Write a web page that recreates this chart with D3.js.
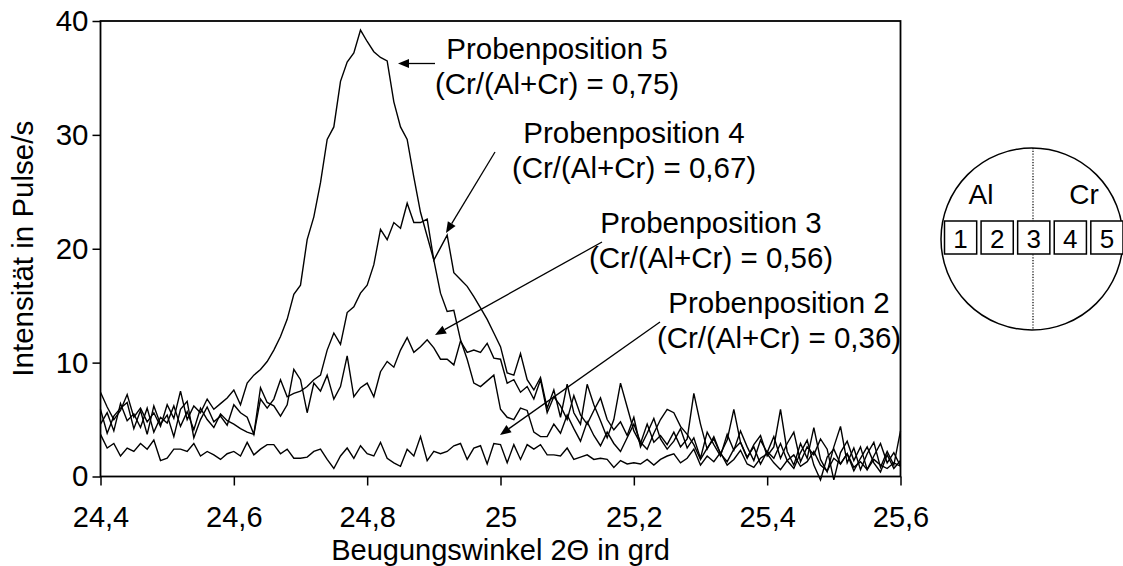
<!DOCTYPE html>
<html>
<head>
<meta charset="utf-8">
<script src="https://cdn.jsdelivr.net/npm/d3@7"></script>
<style>
  html, body { margin: 0; padding: 0; background: #fff; }
  svg { display: block; font-family: "Liberation Sans", Arial, Helvetica, sans-serif; }
</style>
</head>
<body>
<svg id="chart" width="1123" height="566"></svg>
<script>
// Diffraction angle grid (2Θ, degrees), 0.01° steps from 24.40 to 25.60
const angleStart = 24.40;
const angleStep = 0.01;
const angleCount = 121;

// Measured intensity (pulses/s) for each sample position
const pos5 = [
  7.4, 6.1, 5.0, 5.8, 7.2, 5.2, 6.0, 4.8, 5.6, 4.4, 6.3, 5.1, 7.5, 5.0, 6.2, 5.6, 6.8, 5.9, 6.4, 6.9,
  7.6, 6.3, 8.2, 8.9, 9.4, 10.1, 11.1, 12.3, 13.8, 16.0, 16.8, 20.8, 22.8, 25.8, 29.6, 30.7, 34.7, 36.4, 37.2, 39.2,
  38.2, 37.3, 36.8, 36.5, 32.9, 30.7, 29.6, 26.3, 23.2, 21.1, 19.0, 16.1, 14.5, 14.6, 12.0, 10.3, 8.2, 7.9, 8.4, 8.9,
  5.9, 5.2, 5.0, 6.0, 5.8, 3.9, 3.5, 3.5, 4.6, 3.8, 5.4, 4.2, 3.1, 4.8, 3.6, 2.7, 3.9, 2.9, 2.2, 3.4,
  4.6, 3.0, 2.4, 3.8, 5.0, 5.9, 5.6, 4.4, 3.7, 2.8, 1.5, 2.5, 3.3, 2.0, 1.3, 2.4, 3.0, 1.7, 2.6, 1.1,
  2.2, 1.6, 2.9, 1.4, 0.7, 2.1, 3.2, 1.0, -0.3, 1.7, 2.4, 1.1, 2.0, 0.5, 1.6, 2.6, 1.2, 0.4, 1.9, 0.7, 1.4
];
const pos4 = [
  5.9, 3.8, 5.3, 6.0, 6.5, 4.2, 5.8, 3.7, 6.2, 4.6, 5.4, 3.5, 5.9, 6.6, 3.4, 5.0, 6.1, 4.8, 5.3, 4.5,
  6.3, 5.6, 5.2, 3.7, 6.8, 6.0, 6.8, 8.5, 7.0, 7.3, 7.5, 7.9, 8.5, 8.9, 11.1, 12.6, 11.6, 14.4, 14.9, 16.1,
  16.8, 18.6, 21.7, 20.8, 22.3, 21.8, 24.0, 22.3, 22.3, 22.6, 19.0, 20.1, 21.2, 17.9, 17.3, 16.7, 15.8, 14.8, 13.8, 12.6,
  11.4, 9.1, 8.9, 10.8, 8.5, 7.6, 8.7, 6.0, 7.6, 5.2, 8.1, 5.6, 4.6, 8.1, 6.3, 4.9, 3.4, 5.0, 8.2, 6.1,
  4.0, 2.9, 4.6, 3.0, 3.6, 2.8, 3.9, 2.6, 3.3, 7.3, 4.6, 2.4, 3.5, 2.0, 3.2, 5.9, 3.0, 1.6, 2.8, 3.6,
  1.8, 2.6, 5.9, 2.2, 1.0, 2.9, 1.6, 4.3, 1.5, 0.4, 2.6, 4.4, 1.2, 2.5, 0.6, 2.0, 3.0, 0.8, 2.2, 1.0, 4.0
];
const pos3 = [
  4.6, 5.6, 4.0, 6.4, 4.9, 5.5, 4.3, 6.0, 3.9, 5.2, 4.7, 6.2, 4.4, 5.7, 4.1, 6.0, 5.0, 4.3, 5.5, 4.9,
  4.6, 4.2, 3.9, 3.7, 7.8, 6.5, 6.2, 5.3, 6.3, 9.4, 8.5, 5.6, 8.2, 7.5, 8.9, 6.8, 7.9, 10.6, 7.0, 7.8,
  8.2, 7.0, 9.2, 10.1, 9.6, 11.1, 12.2, 10.9, 11.4, 12.0, 11.3, 10.3, 10.3, 9.8, 11.9, 10.9, 11.1, 10.9, 11.7, 10.4,
  10.3, 8.2, 8.5, 7.4, 7.9, 6.8, 8.5, 5.6, 7.0, 6.2, 5.0, 7.1, 5.4, 4.6, 5.8, 6.9, 5.0, 4.1, 4.8, 3.6,
  5.2, 2.6, 3.8, 5.1, 3.3, 2.4, 3.1, 4.2, 2.5, 3.4, 1.6, 3.9, 2.8, 1.8, 3.7, 2.3, 4.0, 2.6, 1.4, 3.2,
  2.1, 3.5, 1.6, 2.9, 3.9, 1.3, 2.6, 1.9, 3.3, 2.4, -0.3, 2.1, 3.1, 1.4, 2.6, 0.6, 1.8, 2.9, 1.2, 2.1, 0.9
];
const pos2 = [
  3.7, 2.5, 2.9, 1.8, 2.5, 2.2, 2.9, 2.4, 3.2, 1.4, 1.6, 2.4, 2.4, 2.2, 2.9, 1.8, 2.2, 1.9, 1.5, 2.0,
  2.2, 1.8, 3.0, 1.9, 2.4, 2.8, 2.8, 2.0, 2.4, 1.6, 1.6, 1.7, 2.2, 2.4, 1.5, 0.7, 1.8, 2.5, 1.6, 2.7,
  2.0, 1.8, 3.0, 1.6, 1.2, 0.9, 2.4, 1.8, 3.5, 1.4, 2.2, 2.0, 2.2, 2.7, 2.9, 1.5, 2.5, 2.7, 1.1, 2.9,
  2.8, 1.2, 2.8, 1.5, 2.8, 2.4, 2.8, 1.9, 1.9, 1.8, 2.5, 1.5, 1.7, 1.9, 1.5, 1.6, 1.5, 0.8, 1.4, 1.1,
  1.2, 1.1, 1.5, 1.0, 1.5, 1.8, 2.0, 1.2, 1.6, 2.4, 1.0, 1.8, 1.3, 2.1, 1.0, 1.5, 2.3, 1.1, 0.8, 1.6,
  2.0, 1.2, 0.6, 1.4, 1.9, 0.9, 1.3, 2.2, 1.0, 0.5, 1.6, 1.1, 2.0, 0.8, 1.3, 0.6, 1.5, 1.0, 0.7, 1.2, 0.9
];

// Axis ticks
const xTicks = [24.4, 24.6, 24.8, 25.0, 25.2, 25.4, 25.6];
const yTicks = [0, 10, 20, 30, 40];

// Annotation text for each curve
const labelTitles = ["Probenposition 5", "Probenposition 4", "Probenposition 3", "Probenposition 2"];
const labelRatios = ["(Cr/(Al+Cr) = 0,75)", "(Cr/(Al+Cr) = 0,67)", "(Cr/(Al+Cr) = 0,56)", "(Cr/(Al+Cr) = 0,36)"];

// Sample holder sketch
const holderSides = ["Al", "Cr"];
const holderSlots = ["1", "2", "3", "4", "5"];

const angles = d3.range(angleCount).map(k => +(angleStart + k * angleStep).toFixed(2));
const seriesList = [pos5, pos4, pos3, pos2];

const svg = d3.select("#chart");
const FONT = 29.5;
const AXIS_FONT = 29;

const x = d3.scaleLinear().domain([24.4, 25.6]).range([100.5, 900.5]);
const y = d3.scaleLinear().domain([0, 40]).range([476.5, 21]);

const commaFmt = d => String(+d.toFixed(1)).replace(".", ",");

// Y axis
const yAxis = svg.append("g")
  .attr("transform", `translate(${x.range()[0]},0)`)
  .call(d3.axisLeft(y).tickValues(yTicks).tickSize(8).tickPadding(4).tickFormat(d3.format("d")));
yAxis.select(".domain").remove();
yAxis.selectAll(".tick line").attr("stroke", "#000").attr("stroke-width", 1.5);
yAxis.selectAll(".tick text").attr("font-size", FONT).attr("fill", "#000")
  .attr("font-family", "Liberation Sans, Arial, sans-serif");

// X axis
const xAxis = svg.append("g")
  .attr("transform", `translate(0,${y(0)})`)
  .call(d3.axisBottom(x).tickValues(xTicks).tickSize(9).tickPadding(21).tickFormat(commaFmt));
xAxis.select(".domain").remove();
xAxis.selectAll(".tick line").attr("stroke", "#000").attr("stroke-width", 1.5);
xAxis.selectAll(".tick text").attr("font-size", AXIS_FONT).attr("fill", "#000")
  .attr("font-family", "Liberation Sans, Arial, sans-serif");

// Plot frame
svg.append("rect")
  .attr("x", x.range()[0]).attr("y", y.range()[1])
  .attr("width", x.range()[1] - x.range()[0])
  .attr("height", y.range()[0] - y.range()[1])
  .attr("fill", "none").attr("stroke", "#000").attr("stroke-width", 1.8);

// Curves
const line = d3.line().x((d, i) => x(angles[i])).y(d => y(d));
svg.append("g").selectAll("path")
  .data(seriesList)
  .join("path")
  .attr("d", line)
  .attr("fill", "none")
  .attr("stroke", "#000")
  .attr("stroke-width", 1.4)
  .attr("stroke-linejoin", "miter");

// Axis titles
svg.append("text")
  .attr("x", x(25.0)).attr("y", 560)
  .attr("text-anchor", "middle").attr("font-size", AXIS_FONT)
  .text("Beugungswinkel 2Θ in grd");
svg.append("text")
  .attr("transform", `translate(33,${(y(0) + y(40)) / 2}) rotate(-90)`)
  .attr("text-anchor", "middle").attr("font-size", FONT)
  .text("Intensität in Pulse/s");

// Curve annotations: text block centre, baselines and arrow (from -> tip)
const notes = [
  { cx: 557, b1: 59,  b2: 94,  from: [435, 63.5], tip: [398, 63.5] },
  { cx: 634, b1: 143, b2: 178, from: [495, 152], tip: [446, 233] },
  { cx: 711, b1: 233, b2: 268, from: [602, 242], tip: [435, 335] },
  { cx: 779, b1: 313, b2: 348, from: [660, 322], tip: [500, 435] }
];
const noteG = svg.append("g");
notes.forEach((n, i) => {
  noteG.append("text").attr("x", n.cx).attr("y", n.b1)
    .attr("text-anchor", "middle").attr("font-size", FONT).text(labelTitles[i]);
  noteG.append("text").attr("x", n.cx).attr("y", n.b2)
    .attr("text-anchor", "middle").attr("font-size", FONT).text(labelRatios[i]);
  const [x1, y1] = n.from, [x2, y2] = n.tip;
  const dx = x2 - x1, dy = y2 - y1, L = Math.hypot(dx, dy);
  const ux = dx / L, uy = dy / L;
  const headLen = 11, headW = 4.5;
  const bx = x2 - ux * headLen, by = y2 - uy * headLen;
  noteG.append("line")
    .attr("x1", x1).attr("y1", y1).attr("x2", bx).attr("y2", by)
    .attr("stroke", "#000").attr("stroke-width", 1.3);
  noteG.append("path")
    .attr("d", `M${x2},${y2} L${bx - uy * headW},${by + ux * headW} L${bx + uy * headW},${by - ux * headW} Z`)
    .attr("fill", "#000");
});

// Sample holder sketch: wafer with the five measuring positions
const holder = svg.append("g");
const cx = 1032, cy = 239, r = 91;
holder.append("circle").attr("cx", cx).attr("cy", cy).attr("r", r)
  .attr("fill", "#fff").attr("stroke", "#000").attr("stroke-width", 1.5);
holder.append("line")
  .attr("x1", 1033).attr("y1", cy - r).attr("x2", 1033).attr("y2", cy + r)
  .attr("stroke", "#000").attr("stroke-width", 1.2).attr("stroke-dasharray", "1.2,1.6");
holder.append("text").attr("x", 981).attr("y", 204).attr("text-anchor", "middle")
  .attr("font-size", 28).text(holderSides[0]);
holder.append("text").attr("x", 1084).attr("y", 204).attr("text-anchor", "middle")
  .attr("font-size", 28).text(holderSides[1]);
const slotX = d3.scaleBand().domain(holderSlots).range([944.5, 1123]).paddingInner(0.12).paddingOuter(0.0);
holder.selectAll("rect.slot").data(holderSlots).join("rect")
  .attr("class", "slot")
  .attr("x", d => slotX(d)).attr("y", 221)
  .attr("width", slotX.bandwidth()).attr("height", 33)
  .attr("fill", "#fff").attr("stroke", "#000").attr("stroke-width", 1.5);
holder.selectAll("text.slot").data(holderSlots).join("text")
  .attr("class", "slot")
  .attr("x", d => slotX(d) + slotX.bandwidth() / 2).attr("y", 248)
  .attr("text-anchor", "middle").attr("font-size", 26).text(d => d);
</script>
</body>
</html>
